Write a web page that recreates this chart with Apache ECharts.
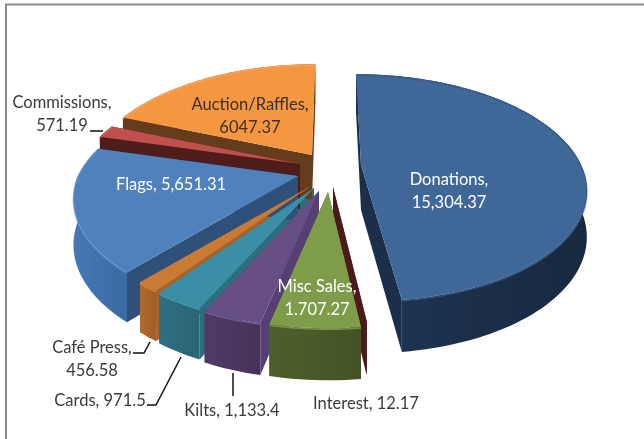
<!DOCTYPE html>
<html>
<head>
<meta charset="utf-8">
<style>html,body{margin:0;padding:0;background:#fff}#c{width:644px;height:439px}</style>
<script src="https://cdn.jsdelivr.net/npm/echarts@6/dist/echarts.min.js"></script>
</head>
<body>
<div id="c"></div>
<script>
// ---- data (clockwise from 12 o'clock) ----
const categories = ['Donations','Interest','Misc Sales','Kilts','Cards','Café Press','Flags','Commissions','Auction/Raffles'];
const values = [15304.37,12.17,1707.27,1133.4,971.5,456.58,5651.31,571.19,6047.37];
const valueLabels = ['15,304.37','12.17','1.707.27','1,133.4','971.5','456.58','5,651.31','571.19','6047.37'];

// ---- per-slice styling and explosion ----
const apexX = [361,333,328,319,314,311,298,300,312];
const apexY = [165,187,192,191,188,186,176,164,155];
const topColors = ['#3f6899','#4a1a1a','#7f9c4b','#674f84','#3b8ea5','#c97b36','#4f81bd','#bf504d','#f59640'];
const rimColors = ['#37597f','#4a1a1a','#8dab58','#8069a0','#57adc4','#dc9450','#5f97d6','#cc625e','#f9a862'];
const wallA = ['#1e3554','#4a1a1a','#4f5f2b','#4f3a66','#2f6f82','#b06a2c','#4478b6','#7a2c2a','#a8622a'];
const wallB = ['#18293f','#4a1a1a','#445326','#463259','#2b6475','#a05e26','#3a6aa2','#7a2c2a','#a8622a'];
const faceColors = ['#1b2f4a','#4a1a1a','#4a5a28','#563f72','#2b6e7e','#a8622a','#2f5179','#4f1c1c','#653c1c'];
const drawOrder = [8,7,6,0,5,4,1,3,2];

// ---- projection settings ----
const RX = 220, RY = 109, K = 0.2, VPX = 332;
const total = values.reduce((a,b)=>a+b,0);
const startAngle = [];
values.reduce((acc,v,i)=>{startAngle[i]=acc;return acc+v/total*Math.PI*2;},0);

function proj(i,t){
  const X=Math.sin(t),Y=-Math.cos(t),w=1/(1-K*Y);
  const lean=(apexX[i]>VPX)?w:Math.min(w,1);
  const x=apexX[i]+RX*X*w+(apexX[i]-VPX)*(lean-1);
  const y=apexY[i]+RY*Y*w;
  return {x,y,d:17+28*w,back:Y<0};
}
function arcPts(i){
  const a=startAngle[i],b=a+values[i]/total*Math.PI*2,n=Math.max(2,Math.ceil((b-a)/0.03));
  const out=[];
  for(let s=0;s<=n;s++) out.push(proj(i,a+(b-a)*s/n));
  return out;
}
function poly(points,fill,z2){
  return {type:'polygon',shape:{points},style:{fill},z2};
}
function renderSlice(params,api){
  const i=api.value(0),arc=arcPts(i),ax=apexX[i],ay=apexY[i],D=45;
  const first=arc[0],last=arc[arc.length-1];
  const children=[];
  children.push(poly([[ax,ay],[first.x,first.y],[first.x,first.y+first.d],[ax,ay+D]],faceColors[i],first.back?3:1));
  children.push(poly([[ax,ay],[last.x,last.y],[last.x,last.y+last.d],[ax,ay+D]],faceColors[i],last.back?3:1));
  const wall=arc.map(p=>[p.x,p.y]).concat(arc.slice().reverse().map(p=>[p.x,p.y+p.d]));
  children.push(poly(wall,{type:'linear',x:0,y:0,x2:1,y2:0,colorStops:[{offset:0,color:wallA[i]},{offset:1,color:wallB[i]}]},2));
  children.push(poly([[ax,ay]].concat(arc.map(p=>[p.x,p.y])),topColors[i],4));
  children.push({type:'polyline',shape:{points:arc.map(p=>[p.x,p.y+1])},style:{fill:null,stroke:rimColors[i],lineWidth:1.5,opacity:0.7},z2:5});
  return {type:'group',children};
}

// ---- text placement ----
const labelColor = ['#fff','#3a3a3a','#fff','#3a3a3a','#3a3a3a','#3a3a3a','#fff','#3a3a3a','#3a3030'];
const labelX = [449,366,317,232,100,92,171,62,250];
const labelY = [191,404,298,411,401,359,185,114,116];
const labelBreak = [true,false,true,false,false,true,false,true,true];
const leaders = [null,null,null,[[233,373],[233,396]],[[147,405],[156,405],[181,357]],[[133,353],[144,353],[150,342]],null,[[90,131],[103,131]],null];

function renderLabel(params,api){
  const i=api.value(0),children=[];
  const light=labelColor[i]==='#fff';
  children.push({type:'text',style:{
    text:categories[i]+','+(labelBreak[i]?'\n':' ')+valueLabels[i],
    x:labelX[i],y:labelY[i],align:'center',verticalAlign:'middle',
    font:'16.5px Lato, "Open Sans", sans-serif',lineHeight:22.5,fill:labelColor[i],
    shadowColor:light?'rgba(0,0,0,0.45)':'transparent',shadowBlur:light?2:0
  },z2:10});
  if(leaders[i]) children.push({type:'polyline',shape:{points:leaders[i]},style:{fill:null,stroke:'#111',lineWidth:1.5},z2:9});
  return {type:'group',children};
}

const chart=echarts.init(document.getElementById('c'),null,{renderer:'canvas'});
chart.setOption({
  animation:false,
  backgroundColor:'#fff',
  graphic:[{type:'polyline',silent:true,z:0,shape:{points:[[6,439],[6,4.5],[644,4.5]]},style:{fill:null,stroke:'#8c8c8c',lineWidth:2}}],
  series:[
    {type:'custom',coordinateSystem:'none',silent:true,z:2,renderItem:renderSlice,
     data:drawOrder.map(i=>({name:categories[i],value:[i,values[i]]}))},
    {type:'custom',coordinateSystem:'none',silent:true,z:5,renderItem:renderLabel,
     data:categories.map((c,i)=>({name:c,value:[i,values[i]]}))}
  ]
});
</script>
</body>
</html>
